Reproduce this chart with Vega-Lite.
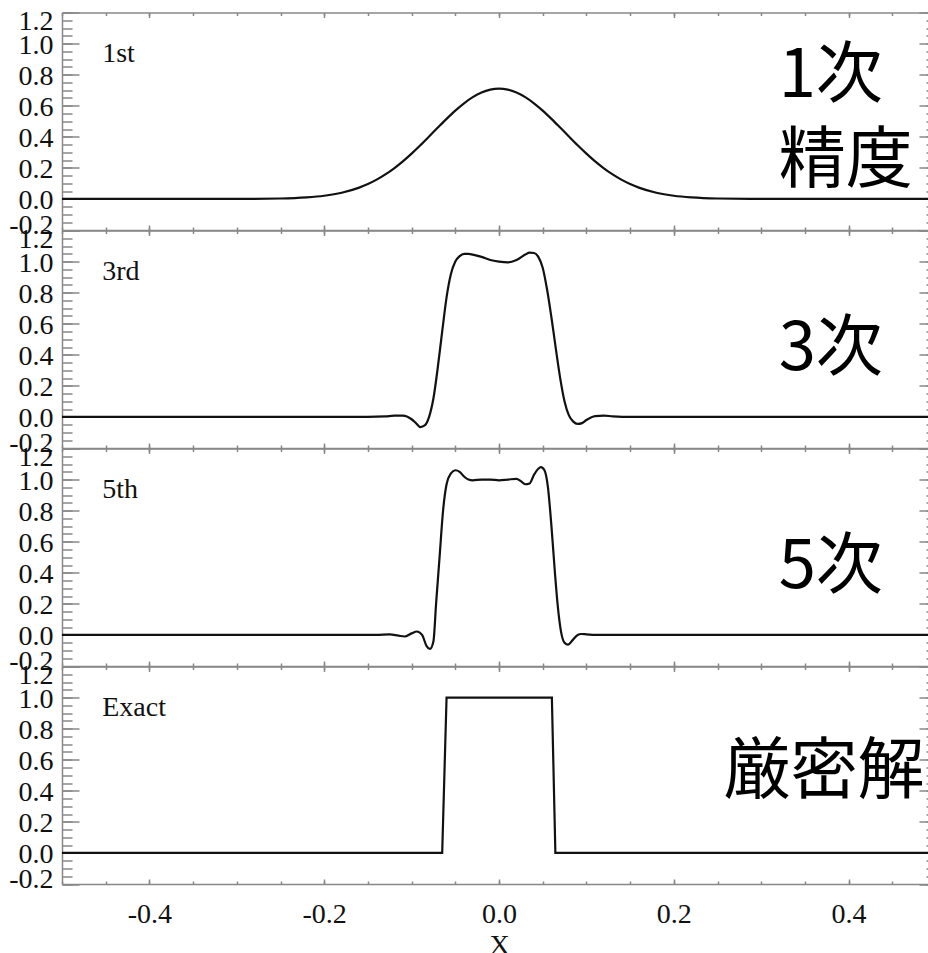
{
  "$schema": "https://vega.github.io/schema/vega-lite/v6.json",
  "padding": {"left": 8, "top": 7.5, "right": 0, "bottom": 0},
  "background": "white",
  "datasets": {
    "first": [
      {"x": -0.5, "y": 0}, {"x": -0.3, "y": 0.0002}, {"x": -0.25, "y": 0.0027}, {"x": -0.22, "y": 0.0096}, {"x": -0.2, "y": 0.0203}, {"x": -0.18, "y": 0.0398}, {"x": -0.16, "y": 0.0729}, {"x": -0.15, "y": 0.0961}, {"x": -0.14, "y": 0.1244}, {"x": -0.13, "y": 0.1581}, {"x": -0.12, "y": 0.1974}, {"x": -0.11, "y": 0.2421}, {"x": -0.1, "y": 0.2918}, {"x": -0.09, "y": 0.3456}, {"x": -0.08, "y": 0.4019}, {"x": -0.07, "y": 0.4592}, {"x": -0.06, "y": 0.5155}, {"x": -0.05, "y": 0.5686}, {"x": -0.04, "y": 0.6158}, {"x": -0.03, "y": 0.6554}, {"x": -0.02, "y": 0.6852}, {"x": -0.01, "y": 0.7037}, {"x": 0, "y": 0.71},
      {"x": 0.01, "y": 0.7037}, {"x": 0.02, "y": 0.6852}, {"x": 0.03, "y": 0.6554}, {"x": 0.04, "y": 0.6158}, {"x": 0.05, "y": 0.5686}, {"x": 0.06, "y": 0.5155}, {"x": 0.07, "y": 0.4592}, {"x": 0.08, "y": 0.4019}, {"x": 0.09, "y": 0.3456}, {"x": 0.1, "y": 0.2918}, {"x": 0.11, "y": 0.2421}, {"x": 0.12, "y": 0.1974}, {"x": 0.13, "y": 0.1581}, {"x": 0.14, "y": 0.1244}, {"x": 0.15, "y": 0.0961}, {"x": 0.16, "y": 0.0729}, {"x": 0.18, "y": 0.0398}, {"x": 0.2, "y": 0.0203}, {"x": 0.22, "y": 0.0096}, {"x": 0.25, "y": 0.0027}, {"x": 0.3, "y": 0.0002}, {"x": 0.5, "y": 0}
    ],
    "third": [
      {"x": -0.5, "y": 0}, {"x": -0.15, "y": 0}, {"x": -0.13, "y": 0.003}, {"x": -0.12, "y": 0.008}, {"x": -0.11, "y": 0.008}, {"x": -0.1, "y": -0.015}, {"x": -0.095, "y": -0.04}, {"x": -0.09, "y": -0.065}, {"x": -0.085, "y": -0.055}, {"x": -0.08, "y": 0.0}, {"x": -0.075, "y": 0.12}, {"x": -0.07, "y": 0.32}, {"x": -0.065, "y": 0.55}, {"x": -0.06, "y": 0.77}, {"x": -0.055, "y": 0.92}, {"x": -0.05, "y": 1.0}, {"x": -0.045, "y": 1.035}, {"x": -0.04, "y": 1.05}, {"x": -0.035, "y": 1.05}, {"x": -0.03, "y": 1.045}, {"x": -0.02, "y": 1.03}, {"x": -0.01, "y": 1.01}, {"x": 0, "y": 1.0}, {"x": 0.01, "y": 0.995}, {"x": 0.02, "y": 1.01}, {"x": 0.03, "y": 1.045}, {"x": 0.035, "y": 1.058}, {"x": 0.04, "y": 1.055}, {"x": 0.045, "y": 1.03}, {"x": 0.05, "y": 0.96}, {"x": 0.055, "y": 0.82}, {"x": 0.06, "y": 0.64}, {"x": 0.065, "y": 0.44}, {"x": 0.07, "y": 0.25}, {"x": 0.075, "y": 0.1}, {"x": 0.08, "y": 0.01}, {"x": 0.085, "y": -0.03}, {"x": 0.09, "y": -0.045}, {"x": 0.095, "y": -0.04}, {"x": 0.1, "y": -0.02}, {"x": 0.11, "y": 0.005}, {"x": 0.12, "y": 0.008}, {"x": 0.13, "y": 0.004}, {"x": 0.15, "y": 0}, {"x": 0.5, "y": 0}
    ],
    "fifth": [
      {"x": -0.5, "y": 0}, {"x": -0.14, "y": 0}, {"x": -0.125, "y": 0.003}, {"x": -0.115, "y": -0.005}, {"x": -0.108, "y": -0.01}, {"x": -0.1, "y": 0.01}, {"x": -0.094, "y": 0.022}, {"x": -0.088, "y": 0.0}, {"x": -0.083, "y": -0.07}, {"x": -0.079, "y": -0.09}, {"x": -0.075, "y": -0.04}, {"x": -0.072, "y": 0.2}, {"x": -0.068, "y": 0.5}, {"x": -0.064, "y": 0.8}, {"x": -0.06, "y": 0.97}, {"x": -0.055, "y": 1.04}, {"x": -0.05, "y": 1.06}, {"x": -0.045, "y": 1.05}, {"x": -0.04, "y": 1.02}, {"x": -0.035, "y": 1.0}, {"x": -0.03, "y": 0.995}, {"x": -0.02, "y": 1.0}, {"x": -0.01, "y": 1.0}, {"x": 0, "y": 0.995}, {"x": 0.01, "y": 1.0}, {"x": 0.02, "y": 1.005}, {"x": 0.025, "y": 0.99}, {"x": 0.03, "y": 0.97}, {"x": 0.035, "y": 0.975}, {"x": 0.04, "y": 1.03}, {"x": 0.045, "y": 1.07}, {"x": 0.048, "y": 1.08}, {"x": 0.052, "y": 1.06}, {"x": 0.056, "y": 0.95}, {"x": 0.06, "y": 0.7}, {"x": 0.064, "y": 0.4}, {"x": 0.067, "y": 0.2}, {"x": 0.071, "y": 0.02}, {"x": 0.075, "y": -0.05}, {"x": 0.079, "y": -0.063}, {"x": 0.084, "y": -0.035}, {"x": 0.09, "y": 0.0}, {"x": 0.094, "y": 0.006}, {"x": 0.1, "y": 0.004}, {"x": 0.11, "y": 0}, {"x": 0.5, "y": 0}
    ],
    "exact": [
      {"x": -0.5, "y": 0}, {"x": -0.065, "y": 0}, {"x": -0.06, "y": 1}, {"x": 0.0605, "y": 1}, {"x": 0.0645, "y": 0}, {"x": 0.5, "y": 0}
    ],
    "dummy": [{"x": 0, "y": 0}],
    "labels": [
      {"panel": "1st", "label": "1st", "x": -0.454, "y": 0.88},
      {"panel": "3rd", "label": "3rd", "x": -0.454, "y": 0.88},
      {"panel": "5th", "label": "5th", "x": -0.454, "y": 0.88},
      {"panel": "exact", "label": "Exact", "x": -0.454, "y": 0.88}
    ],
    "jp": [
      {"panel": "1st", "label": "1次", "x": 0.32, "y": 0.657},
      {"panel": "1st", "label": "精度", "x": 0.32, "y": 0.108},
      {"panel": "3rd", "label": "3次", "x": 0.32, "y": 0.3},
      {"panel": "5th", "label": "5次", "x": 0.32, "y": 0.3},
      {"panel": "exact", "label": "厳密解", "x": 0.257, "y": 0.385}
    ]
  },
  "spacing": 0,
  "bounds": "flush",
  "vconcat": [
    {
      "width": 874, "height": 217.5,
      "resolve": {"axis": {"x": "independent", "y": "independent"}},
      "layer": [
        {"data": {"name": "first"}, "mark": {"type": "line", "color": "#111", "strokeWidth": 2.2, "interpolate": "monotone"},
         "encoding": {
           "x": {"field": "x", "type": "quantitative", "scale": {"domain": [-0.5, 0.5], "nice": false, "zero": false}, "axis": {"orient": "bottom", "values": [-0.4, -0.2, 0, 0.2, 0.4], "tickSize": -5, "labels": false, "title": null}},
           "y": {"field": "y", "type": "quantitative", "scale": {"domain": [-0.2, 1.2], "nice": false, "zero": false}, "axis": {"orient": "left", "values": [-0.2, 0, 0.2, 0.4, 0.6, 0.8, 1, 1.2], "tickSize": -17, "labelPadding": 26, "labelFlush": true, "labelFlushOffset": 7, "labelOffset": 2, "labelExpr": "datum.value < 0 ? '-' + format(-datum.value, '.1f') : format(datum.value, '.1f')", "title": null}}}},
        {"data": {"name": "dummy"}, "mark": {"type": "point", "opacity": 0},
         "encoding": {
           "x": {"field": "x", "type": "quantitative", "scale": {"domain": [-0.5, 0.5], "nice": false, "zero": false}, "axis": {"orient": "bottom", "values": [-0.5, -0.45, -0.4, -0.35, -0.3, -0.25, -0.2, -0.15, -0.1, -0.05, 0, 0.05, 0.1, 0.15, 0.2, 0.25, 0.3, 0.35, 0.4, 0.45, 0.5], "tickSize": -3, "labels": false, "domain": false, "title": null}},
           "y": {"field": "y", "type": "quantitative", "scale": {"domain": [-0.2, 1.2], "nice": false, "zero": false}, "axis": {"orient": "left", "values": [-0.2, -0.15, -0.1, -0.05, 0, 0.05, 0.1, 0.15, 0.2, 0.25, 0.3, 0.35, 0.4, 0.45, 0.5, 0.55, 0.6, 0.65, 0.7, 0.75, 0.8, 0.85, 0.9, 0.95, 1, 1.05, 1.1, 1.15, 1.2], "tickSize": -10, "labels": false, "domain": false, "title": null}}}},
        {"data": {"name": "dummy"}, "mark": {"type": "point", "opacity": 0},
         "encoding": {
           "x": {"field": "x", "type": "quantitative", "scale": {"domain": [-0.5, 0.5], "nice": false, "zero": false}, "axis": {"orient": "top", "values": [-0.4, -0.2, 0, 0.2, 0.4], "tickSize": -5, "labels": false, "title": null}},
           "y": {"field": "y", "type": "quantitative", "scale": {"domain": [-0.2, 1.2], "nice": false, "zero": false}, "axis": {"orient": "right", "values": [-0.2, 0, 0.2, 0.4, 0.6, 0.8, 1, 1.2], "tickSize": -17, "labels": false, "title": null}}}},
        {"data": {"name": "dummy"}, "mark": {"type": "point", "opacity": 0},
         "encoding": {
           "x": {"field": "x", "type": "quantitative", "scale": {"domain": [-0.5, 0.5], "nice": false, "zero": false}, "axis": {"orient": "top", "values": [-0.5, -0.45, -0.4, -0.35, -0.3, -0.25, -0.2, -0.15, -0.1, -0.05, 0, 0.05, 0.1, 0.15, 0.2, 0.25, 0.3, 0.35, 0.4, 0.45, 0.5], "tickSize": -3, "labels": false, "domain": false, "title": null}},
           "y": {"field": "y", "type": "quantitative", "scale": {"domain": [-0.2, 1.2], "nice": false, "zero": false}, "axis": {"orient": "right", "values": [-0.2, -0.15, -0.1, -0.05, 0, 0.05, 0.1, 0.15, 0.2, 0.25, 0.3, 0.35, 0.4, 0.45, 0.5, 0.55, 0.6, 0.65, 0.7, 0.75, 0.8, 0.85, 0.9, 0.95, 1, 1.05, 1.1, 1.15, 1.2], "tickSize": -10, "labels": false, "domain": false, "title": null}}}},
        {"data": {"name": "labels"}, "transform": [{"filter": "datum.panel == '1st'"}], "mark": {"type": "text", "font": "Liberation Serif", "fontSize": 28, "align": "left", "baseline": "alphabetic", "color": "#111"},
         "encoding": {"x": {"field": "x", "type": "quantitative", "axis": null}, "y": {"field": "y", "type": "quantitative", "axis": null}, "text": {"field": "label"}}},
        {"data": {"name": "jp"}, "transform": [{"filter": "datum.panel == '1st'"}], "mark": {"type": "text", "font": "Noto Sans CJK JP", "fontSize": 67, "align": "left", "baseline": "alphabetic", "color": "#000"},
         "encoding": {"x": {"field": "x", "type": "quantitative", "axis": null}, "y": {"field": "y", "type": "quantitative", "axis": null}, "text": {"field": "label"}}}
      ]
    },
    {
      "width": 874, "height": 217.5,
      "resolve": {"axis": {"x": "independent", "y": "independent"}},
      "layer": [
        {"data": {"name": "third"}, "mark": {"type": "line", "color": "#111", "strokeWidth": 2.2, "interpolate": "monotone"},
         "encoding": {
           "x": {"field": "x", "type": "quantitative", "scale": {"domain": [-0.5, 0.5], "nice": false, "zero": false}, "axis": {"orient": "bottom", "values": [-0.4, -0.2, 0, 0.2, 0.4], "tickSize": -5, "labels": false, "title": null}},
           "y": {"field": "y", "type": "quantitative", "scale": {"domain": [-0.2, 1.2], "nice": false, "zero": false}, "axis": {"orient": "left", "values": [-0.2, 0, 0.2, 0.4, 0.6, 0.8, 1, 1.2], "tickSize": -17, "labelPadding": 26, "labelFlush": true, "labelFlushOffset": 7, "labelOffset": 2, "labelExpr": "datum.value < 0 ? '-' + format(-datum.value, '.1f') : format(datum.value, '.1f')", "title": null}}}},
        {"data": {"name": "dummy"}, "mark": {"type": "point", "opacity": 0},
         "encoding": {
           "x": {"field": "x", "type": "quantitative", "scale": {"domain": [-0.5, 0.5], "nice": false, "zero": false}, "axis": {"orient": "bottom", "values": [-0.5, -0.45, -0.4, -0.35, -0.3, -0.25, -0.2, -0.15, -0.1, -0.05, 0, 0.05, 0.1, 0.15, 0.2, 0.25, 0.3, 0.35, 0.4, 0.45, 0.5], "tickSize": -3, "labels": false, "domain": false, "title": null}},
           "y": {"field": "y", "type": "quantitative", "scale": {"domain": [-0.2, 1.2], "nice": false, "zero": false}, "axis": {"orient": "left", "values": [-0.2, -0.15, -0.1, -0.05, 0, 0.05, 0.1, 0.15, 0.2, 0.25, 0.3, 0.35, 0.4, 0.45, 0.5, 0.55, 0.6, 0.65, 0.7, 0.75, 0.8, 0.85, 0.9, 0.95, 1, 1.05, 1.1, 1.15, 1.2], "tickSize": -10, "labels": false, "domain": false, "title": null}}}},
        {"data": {"name": "dummy"}, "mark": {"type": "point", "opacity": 0},
         "encoding": {
           "x": {"field": "x", "type": "quantitative", "scale": {"domain": [-0.5, 0.5], "nice": false, "zero": false}, "axis": {"orient": "top", "values": [-0.4, -0.2, 0, 0.2, 0.4], "tickSize": -5, "labels": false, "title": null}},
           "y": {"field": "y", "type": "quantitative", "scale": {"domain": [-0.2, 1.2], "nice": false, "zero": false}, "axis": {"orient": "right", "values": [-0.2, 0, 0.2, 0.4, 0.6, 0.8, 1, 1.2], "tickSize": -17, "labels": false, "title": null}}}},
        {"data": {"name": "dummy"}, "mark": {"type": "point", "opacity": 0},
         "encoding": {
           "x": {"field": "x", "type": "quantitative", "scale": {"domain": [-0.5, 0.5], "nice": false, "zero": false}, "axis": {"orient": "top", "values": [-0.5, -0.45, -0.4, -0.35, -0.3, -0.25, -0.2, -0.15, -0.1, -0.05, 0, 0.05, 0.1, 0.15, 0.2, 0.25, 0.3, 0.35, 0.4, 0.45, 0.5], "tickSize": -3, "labels": false, "domain": false, "title": null}},
           "y": {"field": "y", "type": "quantitative", "scale": {"domain": [-0.2, 1.2], "nice": false, "zero": false}, "axis": {"orient": "right", "values": [-0.2, -0.15, -0.1, -0.05, 0, 0.05, 0.1, 0.15, 0.2, 0.25, 0.3, 0.35, 0.4, 0.45, 0.5, 0.55, 0.6, 0.65, 0.7, 0.75, 0.8, 0.85, 0.9, 0.95, 1, 1.05, 1.1, 1.15, 1.2], "tickSize": -10, "labels": false, "domain": false, "title": null}}}},
        {"data": {"name": "labels"}, "transform": [{"filter": "datum.panel == '3rd'"}], "mark": {"type": "text", "font": "Liberation Serif", "fontSize": 28, "align": "left", "baseline": "alphabetic", "color": "#111"},
         "encoding": {"x": {"field": "x", "type": "quantitative", "axis": null}, "y": {"field": "y", "type": "quantitative", "axis": null}, "text": {"field": "label"}}},
        {"data": {"name": "jp"}, "transform": [{"filter": "datum.panel == '3rd'"}], "mark": {"type": "text", "font": "Noto Sans CJK JP", "fontSize": 67, "align": "left", "baseline": "alphabetic", "color": "#000"},
         "encoding": {"x": {"field": "x", "type": "quantitative", "axis": null}, "y": {"field": "y", "type": "quantitative", "axis": null}, "text": {"field": "label"}}}
      ]
    },
    {
      "width": 874, "height": 217.5,
      "resolve": {"axis": {"x": "independent", "y": "independent"}},
      "layer": [
        {"data": {"name": "fifth"}, "mark": {"type": "line", "color": "#111", "strokeWidth": 2.2, "interpolate": "monotone"},
         "encoding": {
           "x": {"field": "x", "type": "quantitative", "scale": {"domain": [-0.5, 0.5], "nice": false, "zero": false}, "axis": {"orient": "bottom", "values": [-0.4, -0.2, 0, 0.2, 0.4], "tickSize": -5, "labels": false, "title": null}},
           "y": {"field": "y", "type": "quantitative", "scale": {"domain": [-0.2, 1.2], "nice": false, "zero": false}, "axis": {"orient": "left", "values": [-0.2, 0, 0.2, 0.4, 0.6, 0.8, 1, 1.2], "tickSize": -17, "labelPadding": 26, "labelFlush": true, "labelFlushOffset": 7, "labelOffset": 2, "labelExpr": "datum.value < 0 ? '-' + format(-datum.value, '.1f') : format(datum.value, '.1f')", "title": null}}}},
        {"data": {"name": "dummy"}, "mark": {"type": "point", "opacity": 0},
         "encoding": {
           "x": {"field": "x", "type": "quantitative", "scale": {"domain": [-0.5, 0.5], "nice": false, "zero": false}, "axis": {"orient": "bottom", "values": [-0.5, -0.45, -0.4, -0.35, -0.3, -0.25, -0.2, -0.15, -0.1, -0.05, 0, 0.05, 0.1, 0.15, 0.2, 0.25, 0.3, 0.35, 0.4, 0.45, 0.5], "tickSize": -3, "labels": false, "domain": false, "title": null}},
           "y": {"field": "y", "type": "quantitative", "scale": {"domain": [-0.2, 1.2], "nice": false, "zero": false}, "axis": {"orient": "left", "values": [-0.2, -0.15, -0.1, -0.05, 0, 0.05, 0.1, 0.15, 0.2, 0.25, 0.3, 0.35, 0.4, 0.45, 0.5, 0.55, 0.6, 0.65, 0.7, 0.75, 0.8, 0.85, 0.9, 0.95, 1, 1.05, 1.1, 1.15, 1.2], "tickSize": -10, "labels": false, "domain": false, "title": null}}}},
        {"data": {"name": "dummy"}, "mark": {"type": "point", "opacity": 0},
         "encoding": {
           "x": {"field": "x", "type": "quantitative", "scale": {"domain": [-0.5, 0.5], "nice": false, "zero": false}, "axis": {"orient": "top", "values": [-0.4, -0.2, 0, 0.2, 0.4], "tickSize": -5, "labels": false, "title": null}},
           "y": {"field": "y", "type": "quantitative", "scale": {"domain": [-0.2, 1.2], "nice": false, "zero": false}, "axis": {"orient": "right", "values": [-0.2, 0, 0.2, 0.4, 0.6, 0.8, 1, 1.2], "tickSize": -17, "labels": false, "title": null}}}},
        {"data": {"name": "dummy"}, "mark": {"type": "point", "opacity": 0},
         "encoding": {
           "x": {"field": "x", "type": "quantitative", "scale": {"domain": [-0.5, 0.5], "nice": false, "zero": false}, "axis": {"orient": "top", "values": [-0.5, -0.45, -0.4, -0.35, -0.3, -0.25, -0.2, -0.15, -0.1, -0.05, 0, 0.05, 0.1, 0.15, 0.2, 0.25, 0.3, 0.35, 0.4, 0.45, 0.5], "tickSize": -3, "labels": false, "domain": false, "title": null}},
           "y": {"field": "y", "type": "quantitative", "scale": {"domain": [-0.2, 1.2], "nice": false, "zero": false}, "axis": {"orient": "right", "values": [-0.2, -0.15, -0.1, -0.05, 0, 0.05, 0.1, 0.15, 0.2, 0.25, 0.3, 0.35, 0.4, 0.45, 0.5, 0.55, 0.6, 0.65, 0.7, 0.75, 0.8, 0.85, 0.9, 0.95, 1, 1.05, 1.1, 1.15, 1.2], "tickSize": -10, "labels": false, "domain": false, "title": null}}}},
        {"data": {"name": "labels"}, "transform": [{"filter": "datum.panel == '5th'"}], "mark": {"type": "text", "font": "Liberation Serif", "fontSize": 28, "align": "left", "baseline": "alphabetic", "color": "#111"},
         "encoding": {"x": {"field": "x", "type": "quantitative", "axis": null}, "y": {"field": "y", "type": "quantitative", "axis": null}, "text": {"field": "label"}}},
        {"data": {"name": "jp"}, "transform": [{"filter": "datum.panel == '5th'"}], "mark": {"type": "text", "font": "Noto Sans CJK JP", "fontSize": 67, "align": "left", "baseline": "alphabetic", "color": "#000"},
         "encoding": {"x": {"field": "x", "type": "quantitative", "axis": null}, "y": {"field": "y", "type": "quantitative", "axis": null}, "text": {"field": "label"}}}
      ]
    },
    {
      "width": 874, "height": 217.5,
      "resolve": {"axis": {"x": "independent", "y": "independent"}},
      "layer": [
        {"data": {"name": "exact"}, "mark": {"type": "line", "color": "#111", "strokeWidth": 2.2},
         "encoding": {
           "x": {"field": "x", "type": "quantitative", "scale": {"domain": [-0.5, 0.5], "nice": false, "zero": false}, "axis": {"orient": "bottom", "values": [-0.4, -0.2, 0, 0.2, 0.4], "tickSize": -5, "labelPadding": 21, "labelExpr": "datum.value < 0 ? '-' + format(-datum.value, '.1f') : format(datum.value, '.1f')", "title": "X", "titlePadding": 3}},
           "y": {"field": "y", "type": "quantitative", "scale": {"domain": [-0.2, 1.2], "nice": false, "zero": false}, "axis": {"orient": "left", "values": [-0.2, 0, 0.2, 0.4, 0.6, 0.8, 1, 1.2], "tickSize": -17, "labelPadding": 26, "labelFlush": true, "labelFlushOffset": 7, "labelOffset": 2, "labelExpr": "datum.value < 0 ? '-' + format(-datum.value, '.1f') : format(datum.value, '.1f')", "title": null}}}},
        {"data": {"name": "dummy"}, "mark": {"type": "point", "opacity": 0},
         "encoding": {
           "x": {"field": "x", "type": "quantitative", "scale": {"domain": [-0.5, 0.5], "nice": false, "zero": false}, "axis": {"orient": "bottom", "values": [-0.5, -0.45, -0.4, -0.35, -0.3, -0.25, -0.2, -0.15, -0.1, -0.05, 0, 0.05, 0.1, 0.15, 0.2, 0.25, 0.3, 0.35, 0.4, 0.45, 0.5], "tickSize": -3, "labels": false, "domain": false, "title": null}},
           "y": {"field": "y", "type": "quantitative", "scale": {"domain": [-0.2, 1.2], "nice": false, "zero": false}, "axis": {"orient": "left", "values": [-0.2, -0.15, -0.1, -0.05, 0, 0.05, 0.1, 0.15, 0.2, 0.25, 0.3, 0.35, 0.4, 0.45, 0.5, 0.55, 0.6, 0.65, 0.7, 0.75, 0.8, 0.85, 0.9, 0.95, 1, 1.05, 1.1, 1.15, 1.2], "tickSize": -10, "labels": false, "domain": false, "title": null}}}},
        {"data": {"name": "dummy"}, "mark": {"type": "point", "opacity": 0},
         "encoding": {
           "x": {"field": "x", "type": "quantitative", "scale": {"domain": [-0.5, 0.5], "nice": false, "zero": false}, "axis": {"orient": "top", "values": [-0.4, -0.2, 0, 0.2, 0.4], "tickSize": -5, "labels": false, "title": null}},
           "y": {"field": "y", "type": "quantitative", "scale": {"domain": [-0.2, 1.2], "nice": false, "zero": false}, "axis": {"orient": "right", "values": [-0.2, 0, 0.2, 0.4, 0.6, 0.8, 1, 1.2], "tickSize": -17, "labels": false, "title": null}}}},
        {"data": {"name": "dummy"}, "mark": {"type": "point", "opacity": 0},
         "encoding": {
           "x": {"field": "x", "type": "quantitative", "scale": {"domain": [-0.5, 0.5], "nice": false, "zero": false}, "axis": {"orient": "top", "values": [-0.5, -0.45, -0.4, -0.35, -0.3, -0.25, -0.2, -0.15, -0.1, -0.05, 0, 0.05, 0.1, 0.15, 0.2, 0.25, 0.3, 0.35, 0.4, 0.45, 0.5], "tickSize": -3, "labels": false, "domain": false, "title": null}},
           "y": {"field": "y", "type": "quantitative", "scale": {"domain": [-0.2, 1.2], "nice": false, "zero": false}, "axis": {"orient": "right", "values": [-0.2, -0.15, -0.1, -0.05, 0, 0.05, 0.1, 0.15, 0.2, 0.25, 0.3, 0.35, 0.4, 0.45, 0.5, 0.55, 0.6, 0.65, 0.7, 0.75, 0.8, 0.85, 0.9, 0.95, 1, 1.05, 1.1, 1.15, 1.2], "tickSize": -10, "labels": false, "domain": false, "title": null}}}},
        {"data": {"name": "labels"}, "transform": [{"filter": "datum.panel == 'exact'"}], "mark": {"type": "text", "font": "Liberation Serif", "fontSize": 28, "align": "left", "baseline": "alphabetic", "color": "#111"},
         "encoding": {"x": {"field": "x", "type": "quantitative", "axis": null}, "y": {"field": "y", "type": "quantitative", "axis": null}, "text": {"field": "label"}}},
        {"data": {"name": "jp"}, "transform": [{"filter": "datum.panel == 'exact'"}], "mark": {"type": "text", "font": "Noto Sans CJK JP", "fontSize": 67, "align": "left", "baseline": "alphabetic", "color": "#000"},
         "encoding": {"x": {"field": "x", "type": "quantitative", "axis": null}, "y": {"field": "y", "type": "quantitative", "axis": null}, "text": {"field": "label"}}}
      ]
    }
  ],
  "config": {
    "view": {"stroke": null},
    "axis": {"grid": false, "labelFont": "Liberation Serif", "labelFontSize": 28, "labelColor": "#111", "titleFont": "Liberation Serif", "titleFontSize": 28, "titleFontWeight": "normal", "titleColor": "#111", "domainColor": "#888", "domainWidth": 1.5, "tickColor": "#888", "tickWidth": 1.5, "labelOverlap": false, "labelBound": false}
  }
}
